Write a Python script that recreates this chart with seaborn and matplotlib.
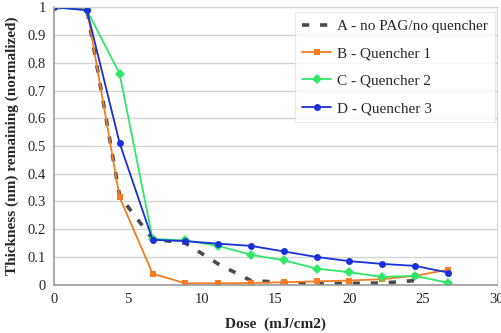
import matplotlib
matplotlib.use("Agg")
import matplotlib.pyplot as plt
import seaborn as sns
import pandas as pd

dose = [0, 2.22, 4.44, 6.67, 8.89, 11.11, 13.33, 15.56, 17.78, 20.0, 22.22, 24.44, 26.67]
dose_a = dose[:12]
thick_a = [1.0, 0.995, 0.32, 0.165, 0.15, 0.075, 0.015, 0.008, 0.005, 0.005, 0.006, 0.015]
thick_b = [1.0, 0.995, 0.315, 0.04, 0.005, 0.005, 0.006, 0.009, 0.012, 0.015, 0.02, 0.032, 0.054]
thick_c = [1.0, 0.99, 0.76, 0.165, 0.16, 0.14, 0.108, 0.088, 0.058, 0.045, 0.028, 0.032, 0.007]
thick_d = [1.0, 0.99, 0.51, 0.162, 0.157, 0.148, 0.14, 0.12, 0.1, 0.085, 0.075, 0.068, 0.044]
labels = ["A - no PAG/no quencher", "B - Quencher 1", "C - Quencher 2", "D - Quencher 3"]

df = pd.concat([
    pd.DataFrame({"dose": dose_a, "thick": thick_a, "series": labels[0]}),
    pd.DataFrame({"dose": dose, "thick": thick_b, "series": labels[1]}),
    pd.DataFrame({"dose": dose, "thick": thick_c, "series": labels[2]}),
    pd.DataFrame({"dose": dose, "thick": thick_d, "series": labels[3]}),
])

sns.set_style("white")
plt.rcParams['font.family'] = ['Liberation Serif', 'DejaVu Serif']

colors = {labels[0]: "#4a4a4a", labels[1]: "#f57c22", labels[2]: "#2ee86a", labels[3]: "#1a30d8"}

fig, ax = plt.subplots(figsize=(5.01, 3.33), dpi=100)
fig.subplots_adjust(left=0.108, right=0.992, top=0.978, bottom=0.145)

ax.yaxis.grid(True, color="#d4d4d4", lw=1)
ax.set_axisbelow(True)

sns.lineplot(data=df[df.series == labels[0]], x="dose", y="thick", color=colors[labels[0]],
             lw=2.6, linestyle=(0, (2.0, 3.0)), ax=ax, label=labels[0])
sns.lineplot(data=df[df.series == labels[1]], x="dose", y="thick", color=colors[labels[1]],
             lw=1.3, marker="s", markersize=5, markeredgewidth=0, ax=ax, label=labels[1])
sns.lineplot(data=df[df.series == labels[2]], x="dose", y="thick", color=colors[labels[2]],
             lw=1.3, marker="D", markersize=5, markeredgewidth=0, ax=ax, label=labels[2])
sns.lineplot(data=df[df.series == labels[3]], x="dose", y="thick", color=colors[labels[3]],
             lw=1.3, marker="o", markersize=5, markeredgewidth=0, ax=ax, label=labels[3])

ax.set_xlim(0, 30)
ax.set_ylim(0, 1)
ax.set_xticks([0, 5, 10, 15, 20, 25, 30])
ax.set_yticks([0, 0.1, 0.2, 0.3, 0.4, 0.5, 0.6, 0.7, 0.8, 0.9, 1])
ax.set_yticklabels(["0", "0.1", "0.2", "0.3", "0.4", "0.5", "0.6", "0.7", "0.8", "0.9", "1"])
ax.tick_params(labelsize=10.5, length=0, pad=6)
ax.set_xlabel("Dose  (mJ/cm2)", fontsize=11, fontweight="bold", labelpad=8)
ax.set_ylabel("Thickness (nm) remaining (normalized)", fontsize=11, fontweight="bold", labelpad=6)

for s in ["left", "bottom"]:
    ax.spines[s].set_color("#9a9a9a")
    ax.spines[s].set_linewidth(1.2)
for s in ["top", "right"]:
    ax.spines[s].set_color("#d4d4d4")

leg = ax.legend(loc="upper right", bbox_to_anchor=(0.996, 0.982), borderaxespad=0,
                fontsize=11, frameon=True, fancybox=False, edgecolor="#e4e4e4",
                handlelength=1.9, borderpad=0.45, labelspacing=0.9, handletextpad=0.4)
leg.get_frame().set_linewidth(0.8)

fig.savefig("out.png", dpi=100)
